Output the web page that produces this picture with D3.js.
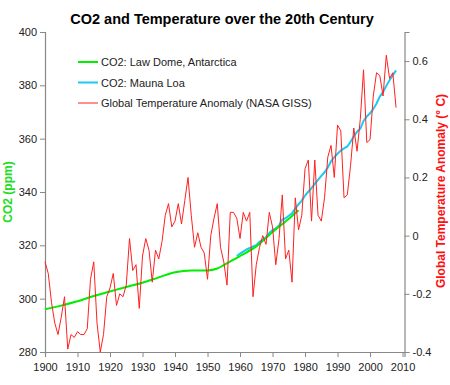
<!DOCTYPE html>
<html>
<head>
<meta charset="utf-8">
<script src="https://cdn.jsdelivr.net/npm/d3@7"></script>
<style>
  body { margin: 0; background: #fff; }
  text { font-family: Arial, "Liberation Sans", sans-serif; }
</style>
</head>
<body>
<svg id="chart" width="450" height="385"></svg>
<script>
// CO2 from Law Dome ice core (ppm)
var lawDomeYears = [1900, 1905, 1910, 1915, 1920, 1925, 1930, 1935, 1940, 1945, 1950, 1953, 1955, 1958, 1960, 1965, 1970, 1975, 1978];
var lawDomeCO2 = [296.0, 297.4, 299.0, 301.0, 302.7, 304.4, 306.0, 308.0, 309.9, 310.6, 310.6, 311.3, 312.6, 314.6, 316.0, 319.6, 325.0, 330.0, 333.2];

// CO2 from Mauna Loa (annual mean, ppm)
var maunaLoaYears = d3.range(1959, 2009);
var maunaLoaCO2 = [
  315.97, 316.91, 317.64, 318.45, 318.99, 319.62, 320.04, 321.38, 322.16, 323.04,
  324.62, 325.68, 326.32, 327.45, 329.68, 330.18, 331.08, 332.05, 333.78, 335.41,
  336.78, 338.68, 340.10, 341.44, 343.03, 344.58, 346.04, 347.39, 349.16, 351.56,
  353.07, 354.35, 355.57, 356.38, 357.07, 358.82, 360.80, 362.59, 363.71, 366.65,
  368.33, 369.52, 371.13, 373.22, 375.77, 377.49, 379.80, 381.90, 383.79, 385.60
];

// Global temperature anomaly, NASA GISS (deg C), 1900-2008
var tempYears = d3.range(1900, 2009);
var tempAnomaly = [
  -0.09, -0.13, -0.23, -0.30, -0.34, -0.28, -0.21, -0.39, -0.34, -0.35,
  -0.33, -0.34, -0.34, -0.32, -0.15, -0.09, -0.30, -0.40, -0.34, -0.21,
  -0.18, -0.13, -0.24, -0.20, -0.21, -0.17, -0.01, -0.12, -0.10, -0.25,
  -0.07, -0.01, -0.05, -0.16, -0.05, -0.08, -0.02, 0.07, 0.11, 0.03,
  0.05, 0.11, 0.04, 0.12, 0.20, 0.07, -0.04, 0.01, -0.04, -0.06,
  -0.15, 0.00, 0.06, 0.11, -0.04, -0.09, -0.17, 0.08, 0.08, 0.06,
  -0.01, 0.08, 0.05, 0.08, -0.21, -0.10, -0.04, 0.00, -0.03, 0.08,
  0.03, -0.10, -0.01, 0.14, -0.08, -0.05, -0.16, 0.13, 0.02, 0.07,
  0.23, 0.26, 0.05, 0.26, 0.07, 0.05, 0.13, 0.27, 0.31, 0.20,
  0.38, 0.36, 0.13, 0.14, 0.24, 0.37, 0.29, 0.40, 0.57, 0.32,
  0.33, 0.48, 0.56, 0.55, 0.48, 0.62, 0.54, 0.56, 0.44
];

var xTicks = [1900, 1910, 1920, 1930, 1940, 1950, 1960, 1970, 1980, 1990, 2000, 2010];
var co2Ticks = [280, 300, 320, 340, 360, 380, 400];
var tempTicks = [-0.4, -0.2, 0, 0.2, 0.4, 0.6];
var tempTickLabels = ["-0.4", "-0.2", "0", "0.2", "0.4", "0.6"];

var seriesNames = ["CO2: Law Dome, Antarctica", "CO2: Mauna Loa", "Global Temperature Anomaly (NASA GISS)"];
var seriesColors = ["#00ee00", "#1ec8f0", "#ff2020"];

var plotLeft = 45, plotRight = 404.5, plotTop = 32, plotBottom = 352;

var svg = d3.select("#chart");

var x = d3.scaleLinear().domain([1900, 2010.6]).range([plotLeft, plotRight]);
var yCO2 = d3.scaleLinear().domain([280, 400]).range([plotBottom, plotTop]);
var yTemp = d3.scaleLinear().domain([-0.4, 0.7]).range([plotBottom, plotTop]);

// title
svg.append("text")
  .attr("x", 222).attr("y", 24)
  .attr("text-anchor", "middle")
  .attr("font-size", "14.5px").attr("font-weight", "bold")
  .text("CO2 and Temperature over the 20th Century");

// axes
var xAxis = svg.append("g")
  .attr("transform", "translate(0," + plotBottom + ")")
  .call(d3.axisBottom(x).tickValues(xTicks).tickFormat(d3.format("d")).tickSizeOuter(0).tickSize(5).tickPadding(6));

var leftAxis = svg.append("g")
  .attr("transform", "translate(" + plotLeft + ",0)")
  .call(d3.axisLeft(yCO2).tickValues(co2Ticks).tickSizeOuter(0).tickSize(5).tickPadding(3));

var rightAxis = svg.append("g")
  .attr("transform", "translate(" + plotRight + ",0)")
  .call(d3.axisRight(yTemp).tickValues(tempTicks).tickFormat((d, i) => tempTickLabels[i]).tickSizeOuter(0).tickSize(5).tickPadding(3));

[xAxis, leftAxis, rightAxis].forEach(function (g) {
  g.select(".domain").attr("stroke", "#888").attr("stroke-width", 1.2);
  g.selectAll(".tick line").attr("stroke", "#888");
  g.selectAll("text").attr("font-size", "11px").attr("fill", "#222").attr("font-family", "Arial, 'Liberation Sans', sans-serif");
});

// axis titles
svg.append("text")
  .attr("transform", "translate(12," + ((plotTop + plotBottom) / 2) + ") rotate(-90)")
  .attr("text-anchor", "middle")
  .attr("font-size", "12px").attr("font-weight", "bold")
  .attr("fill", "#22dd22")
  .text("CO2 (ppm)");

svg.append("text")
  .attr("transform", "translate(445,191) rotate(-90)")
  .attr("text-anchor", "middle")
  .attr("font-size", "12px").attr("font-weight", "bold")
  .attr("fill", "#ff1010")
  .text("Global Temperature Anomaly (\u00b0 C)");

// lines
var maunaLine = d3.line().x((d, i) => x(maunaLoaYears[i])).y(d => yCO2(d));
var lawLine = d3.line().x((d, i) => x(lawDomeYears[i])).y(d => yCO2(d)).curve(d3.curveMonotoneX);
var tempLine = d3.line().x((d, i) => x(tempYears[i])).y(d => yTemp(d));

svg.append("path")
  .datum(maunaLoaCO2)
  .attr("d", maunaLine)
  .attr("fill", "none").attr("stroke", seriesColors[1]).attr("stroke-width", 2);

svg.append("path")
  .datum(lawDomeCO2)
  .attr("d", lawLine)
  .attr("fill", "none").attr("stroke", seriesColors[0]).attr("stroke-width", 2);

svg.append("path")
  .datum(tempAnomaly)
  .attr("d", tempLine)
  .attr("fill", "none").attr("stroke", seriesColors[2]).attr("stroke-width", 1);

// legend
var legend = svg.append("g").attr("transform", "translate(78,62)");
var item = legend.selectAll("g")
  .data(seriesNames)
  .enter().append("g")
    .attr("transform", (d, i) => "translate(0," + (i * 20.5) + ")");
item.append("line")
  .attr("x1", 0).attr("x2", 20).attr("y1", 0).attr("y2", 0)
  .attr("stroke", (d, i) => seriesColors[i])
  .attr("stroke-width", (d, i) => i < 2 ? 2 : 1);
item.append("text")
  .attr("x", 23).attr("y", 4)
  .attr("font-size", "11px").attr("fill", "#222")
  .text(d => d);
</script>
</body>
</html>
